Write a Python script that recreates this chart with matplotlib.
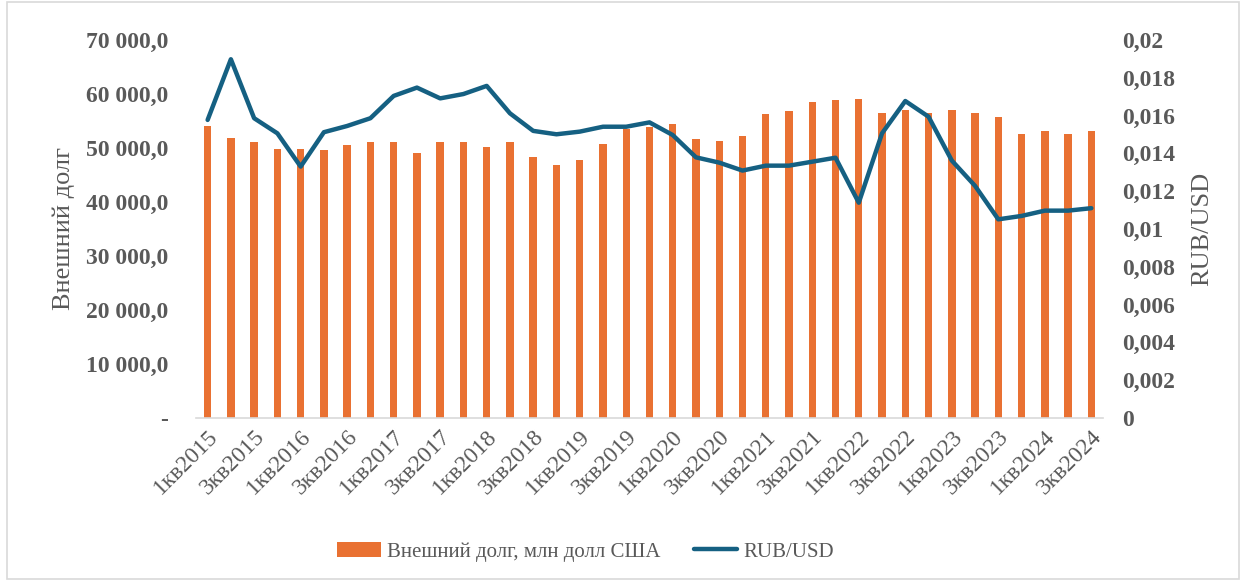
import matplotlib
matplotlib.use("Agg")
import matplotlib.pyplot as plt
from matplotlib.patches import Rectangle
from matplotlib.ticker import FuncFormatter

plt.rcParams['font.family'] = ['Liberation Serif', 'DejaVu Serif']

# quarters 1кв2015 .. 3кв2024
quarters = [f"{q}кв{y}" for y in range(2015, 2025) for q in range(1, 5)][:39]

debt = [54100, 51850, 51050, 49800, 49800, 49600, 50550, 51050, 51050, 49100,
        51050, 51050, 50100, 51050, 48300, 46850, 47800, 50800, 53600, 53800,
        54500, 51600, 51300, 52300, 56200, 56800, 58500, 58800, 59000, 56500,
        57000, 56500, 57000, 56500, 55700, 52600, 53100, 52600, 53100]

rub_usd = [0.01577, 0.01898, 0.01586, 0.01506, 0.01330, 0.01512, 0.01545, 0.01586,
           0.01704, 0.01748, 0.01691, 0.01714, 0.01757, 0.01612, 0.01519, 0.01501,
           0.01515, 0.01541, 0.01541, 0.01564, 0.01497, 0.01379, 0.01351, 0.01309,
           0.01335, 0.01335, 0.01356, 0.01377, 0.01139, 0.01506, 0.01677, 0.01594,
           0.01362, 0.01228, 0.01051, 0.01069, 0.01097, 0.01097, 0.01110]

grey = '#595959'
orange = '#E97132'
blue = '#156082'

fig = plt.figure(figsize=(12.46, 5.81), dpi=100)
ax = fig.add_axes([0.1573, 0.2806, 0.7279, 0.6506])
ax2 = ax.twinx()

x = list(range(len(quarters)))
bars = ax.bar(x, debt, width=0.32, color=orange, label='Внешний долг, млн долл США', zorder=2)
line, = ax2.plot(x, rub_usd, color=blue, lw=3.2, solid_capstyle='round',
                 solid_joinstyle='round', label='RUB/USD', zorder=3)

ax.set_xlim(-0.5, len(quarters) - 0.5)
ax.set_ylim(0, 70000)
ax.set_yticks(range(0, 70001, 10000))
ax2.set_ylim(0, 0.02)
ax2.set_yticks([i * 0.002 for i in range(11)])


def left_fmt(v, pos):
    if v == 0:
        return '-'
    return f"{int(v):,}".replace(',', ' ') + ',0'


def right_fmt(v, pos):
    s = f"{v:.3f}".rstrip('0').rstrip('.')
    return s.replace('.', ',')


ax.yaxis.set_major_formatter(FuncFormatter(left_fmt))
ax2.yaxis.set_major_formatter(FuncFormatter(right_fmt))

ax.set_xticks(x[::2])
ax.set_xticklabels(quarters[::2], rotation=45, ha='right', rotation_mode='anchor',
                   fontsize=17, color=grey)

for a in (ax, ax2):
    for s in a.spines.values():
        s.set_visible(False)
    a.tick_params(length=0)
ax.spines['bottom'].set_visible(True)
ax.spines['bottom'].set_color('#D9D9D9')
ax.spines['bottom'].set_linewidth(1.2)

for lab in ax.get_yticklabels() + ax2.get_yticklabels():
    lab.set_fontweight('bold')
    lab.set_fontsize(17)
    lab.set_color(grey)
ax.tick_params(axis='y', pad=20)
ax.tick_params(axis='x', pad=6)
ax2.tick_params(axis='y', pad=14)

ax.set_ylabel('Внешний долг', fontsize=19, color=grey, labelpad=8)
ax2.set_ylabel('RUB/USD', fontsize=19, color=grey, labelpad=11)

fig.legend([bars, line], ['Внешний долг, млн долл США', 'RUB/USD'],
           loc='center', bbox_to_anchor=(0.47, 0.05), ncol=2, frameon=False,
           fontsize=15, labelcolor=grey, handlelength=2.1, handletextpad=0.3,
           columnspacing=1.6)

fig.patches.append(Rectangle((0.006, 0.004), 0.988, 0.992, transform=fig.transFigure,
                             fill=False, edgecolor='#D9D9D9', lw=1.2))

fig.savefig('out.png', dpi=100)
